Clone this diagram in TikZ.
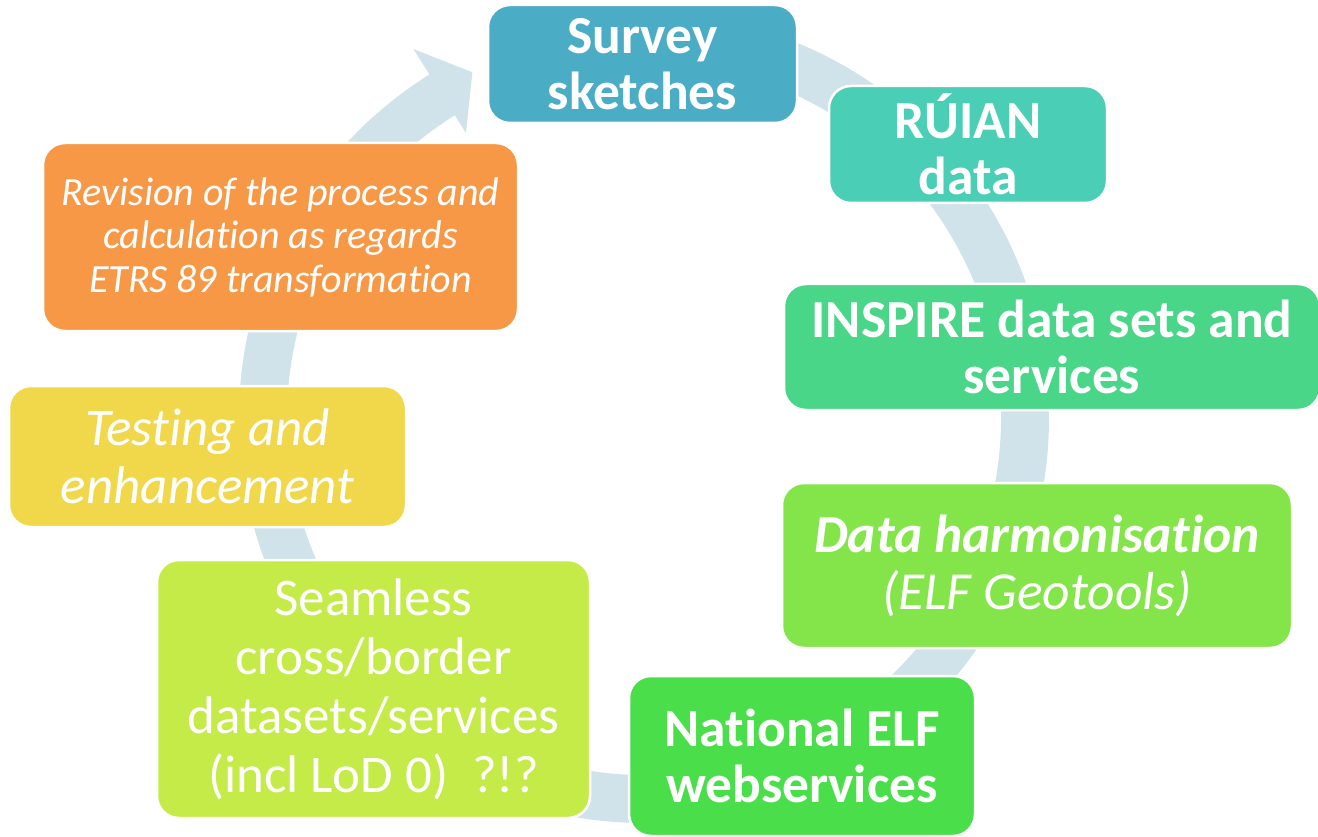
\documentclass[tikz,border=0pt]{standalone}
\usepackage{fontspec}
\setmainfont{Carlito}[Ligatures=NoCommon]
\definecolor{ring}{HTML}{D0E2EA}
\definecolor{cSurvey}{HTML}{4BACC6}
\definecolor{cRuian}{HTML}{4BCEB6}
\definecolor{cInspire}{HTML}{4AD688}
\definecolor{cHarm}{HTML}{84E54A}
\definecolor{cNat}{HTML}{4ADF4A}
\definecolor{cSeam}{HTML}{C4EB48}
\definecolor{cTest}{HTML}{F0D84A}
\definecolor{cRev}{HTML}{F79846}
\tikzset{
  box/.style={rectangle, rounded corners=22pt, draw=white, line width=2.5pt,
    text=white, align=center, inner sep=0pt},
  big/.style={font=\fontsize{53.5}{56}\selectfont\bfseries},
}
\begin{document}
\begin{tikzpicture}[x=1pt,y=-1pt]
\useasboundingbox (0,0) rectangle (1318,837);
% circular arrow
\begin{scope}[shift={(644,418)}, yscale=-1]
\fill[ring] (90:405) arc[start angle=90, end angle=-238, radius=405]
  -- (-238:435) -- (-243.6:386) -- (-238:336) -- (-238:357)
  arc[start angle=-238, end angle=90, radius=357] -- cycle;
\end{scope}
\node[box, big, fill=cSurvey, minimum width=309pt, minimum height=118pt] (survey) at (642.5,64) {Survey\\sketches};
\node[box, big, fill=cRuian, minimum width=278pt, minimum height=117pt] (ruian) at (968,144.5) {RÚIAN\\data};
\node[box, big, fill=cInspire, minimum width=536pt, minimum height=126pt] (inspire) at (1052,347) {INSPIRE data sets and\\services};
\node[box, fill=cHarm, minimum width=510pt, minimum height=165pt, font=\fontsize{53.5}{57}\selectfont] (harm) at (1037,565.5) {\bfseries\itshape Data harmonisation\\\itshape (ELF Geotools)};
\node[box, big, fill=cNat, minimum width=346pt, minimum height=160pt] (nat) at (802,756) {National ELF\\webservices};
\node[box, fill=cSeam, minimum width=433pt, minimum height=258pt, font=\fontsize{53}{59}\selectfont] (seam) at (373.5,689) {Seamless\\cross/border\\datasets/services\\(incl LoD 0)~~?!?};
\node[box, fill=cTest, minimum width=397pt, minimum height=141pt, font=\fontsize{53}{58}\selectfont\itshape] (test) at (207.5,456.5) {Testing and\\enhancement};
\node[box, fill=cRev, minimum width=475pt, minimum height=188pt, font=\fontsize{40}{43.5}\selectfont\itshape] (rev) at (280.5,237) {Revision of the process and\\calculation as regards\\ETRS 89 transformation};
\end{tikzpicture}
\end{document}
